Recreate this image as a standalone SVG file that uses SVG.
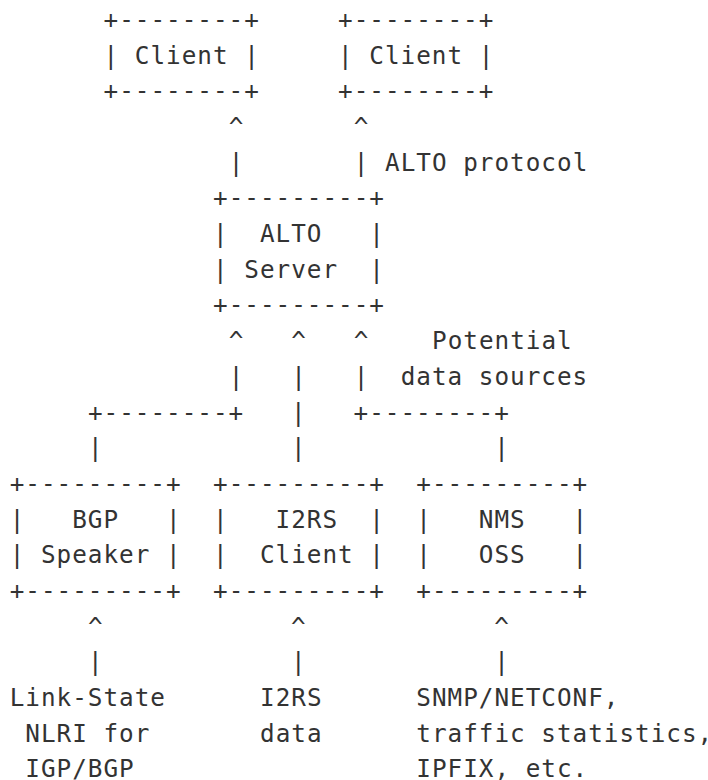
<svg xmlns="http://www.w3.org/2000/svg" width="708" height="780" viewBox="0 0 708 780">
<style>
text { font-family: "DejaVu Sans Mono", "Liberation Mono", monospace; font-size: 24.3px; letter-spacing: 1px; fill: #333; white-space: pre; }
</style>
<rect width="708" height="780" fill="#fff"/>
<g id="client1">
<text x="103.5" y="27.8" xml:space="preserve">+--------+</text>
<text x="103.5" y="63.5" xml:space="preserve">| Client |</text>
<text x="103.5" y="99.2" xml:space="preserve">+--------+</text>
</g>
<g id="client2">
<text x="338.1" y="27.8" xml:space="preserve">+--------+</text>
<text x="338.1" y="63.5" xml:space="preserve">| Client |</text>
<text x="338.1" y="99.2" xml:space="preserve">+--------+</text>
</g>
<g id="alto-server">
<text x="213.0" y="206.3" xml:space="preserve">+---------+</text>
<text x="213.0" y="242.0" xml:space="preserve">|  ALTO   |</text>
<text x="213.0" y="277.7" xml:space="preserve">| Server  |</text>
<text x="213.0" y="313.4" xml:space="preserve">+---------+</text>
</g>
<g id="bgp-speaker">
<text x="9.7" y="491.9" xml:space="preserve">+---------+</text>
<text x="9.7" y="527.6" xml:space="preserve">|   BGP   |</text>
<text x="9.7" y="563.3" xml:space="preserve">| Speaker |</text>
<text x="9.7" y="599.0" xml:space="preserve">+---------+</text>
</g>
<g id="i2rs-client">
<text x="213.0" y="491.9" xml:space="preserve">+---------+</text>
<text x="213.0" y="527.6" xml:space="preserve">|   I2RS  |</text>
<text x="213.0" y="563.3" xml:space="preserve">|  Client |</text>
<text x="213.0" y="599.0" xml:space="preserve">+---------+</text>
</g>
<g id="nms-oss">
<text x="416.3" y="491.9" xml:space="preserve">+---------+</text>
<text x="416.3" y="527.6" xml:space="preserve">|   NMS   |</text>
<text x="416.3" y="563.3" xml:space="preserve">|   OSS   |</text>
<text x="416.3" y="599.0" xml:space="preserve">+---------+</text>
</g>
<g id="connectors">
<text x="228.7" y="134.9" xml:space="preserve">^       ^</text>
<text x="228.7" y="170.6" xml:space="preserve">|       |</text>
<text x="228.7" y="349.1" xml:space="preserve">^   ^   ^</text>
<text x="228.7" y="384.8" xml:space="preserve">|   |   |</text>
<text x="87.9" y="420.5" xml:space="preserve">+--------+   |   +--------+</text>
<text x="87.9" y="456.2" xml:space="preserve">|            |            |</text>
<text x="87.9" y="634.7" xml:space="preserve">^            ^            ^</text>
<text x="87.9" y="670.4" xml:space="preserve">|            |            |</text>
</g>
<g id="labels">
<text x="385.1" y="170.6">ALTO protocol</text>
<text x="432.0" y="349.1">Potential</text>
<text x="400.7" y="384.8">data sources</text>
<text x="9.7" y="706.1">Link-State</text>
<text x="25.3" y="741.8">NLRI for</text>
<text x="25.3" y="777.0">IGP/BGP</text>
<text x="260.0" y="706.1">I2RS</text>
<text x="260.0" y="741.8">data</text>
<text x="416.3" y="706.1">SNMP/NETCONF,</text>
<text x="416.3" y="741.8">traffic statistics,</text>
<text x="416.3" y="777.0">IPFIX, etc.</text>
</g>
</svg>
